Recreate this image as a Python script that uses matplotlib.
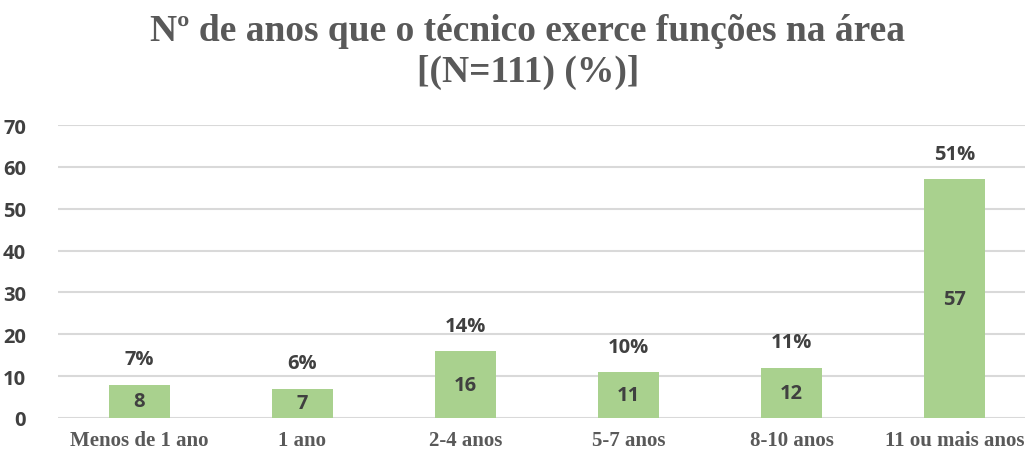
import numpy as np
import matplotlib.pyplot as plt

categorias = ["Menos de 1 ano", "1 ano", "2-4 anos", "5-7 anos", "8-10 anos", "11 ou mais anos"]
valores = [8, 7, 16, 11, 12, 57]
percentagens = ["7%", "6%", "14%", "10%", "11%", "51%"]
titulo = "Nº de anos que o técnico exerce funções na área\n[(N=111) (%)]"

verde = "#a9d18e"
cinza_texto = "#595959"
cinza_escuro = "#404040"
sans = ["Open Sans", "DejaVu Sans"]
serif = ["Liberation Serif", "DejaVu Serif"]

fig = plt.figure(figsize=(10.25, 4.52), dpi=100)
ax = fig.add_axes([58 / 1025, 33 / 452, 978 / 1025, 293 / 452])

x = np.arange(len(categorias))
bars = ax.bar(x, valores, width=0.375, color=verde, zorder=3)

ax.set_xlim(-0.5, len(categorias) - 0.5)
ax.set_ylim(0, 70)
ax.set_yticks(range(0, 71, 10))
ax.yaxis.grid(True, color="#d9d9d9", linewidth=1.5, zorder=0)
ax.set_axisbelow(True)
for s in ax.spines.values():
    s.set_visible(False)
ax.tick_params(axis="both", length=0)
ax.tick_params(axis="y", pad=23)
ax.tick_params(axis="x", pad=9)

ax.set_xticks(x)
ax.set_xticklabels(categorias, family=serif, fontweight="bold", fontsize=15, color=cinza_texto)
for lab in ax.get_yticklabels():
    lab.set_family(sans)
    lab.set_fontweight("bold")
    lab.set_fontsize(14.5)
    lab.set_color(cinza_escuro)

for xi, v, p in zip(x, valores, percentagens):
    ax.text(xi, v / 2, str(v), ha="center", va="center", family=sans,
            fontweight="bold", fontsize=14.5, color=cinza_escuro, zorder=4)
    ax.annotate(p, (xi, v), xytext=(0, 11), textcoords="offset points",
                ha="center", va="bottom", family=sans, fontweight="bold",
                fontsize=14.5, color=cinza_escuro)

fig.text(528 / 1025, 1 - 14 / 452, titulo, ha="center", va="top", family=serif,
         fontweight="bold", fontsize=27, color=cinza_texto, linespacing=1.2)

fig.savefig("out.png", dpi=100)
